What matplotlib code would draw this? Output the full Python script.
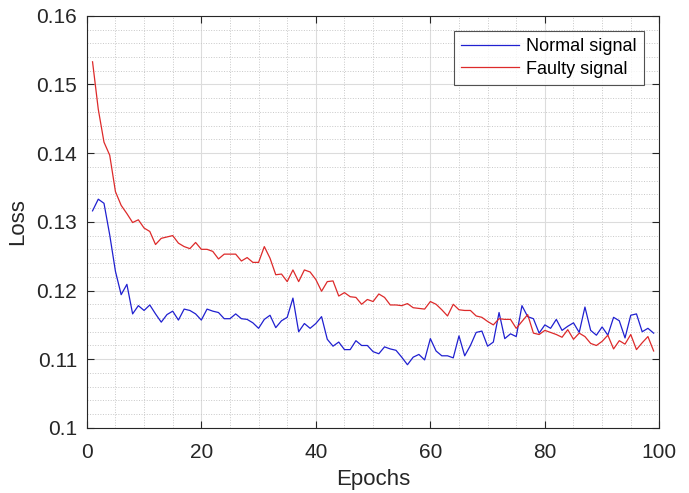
import numpy as np
import matplotlib
matplotlib.use("Agg")
import matplotlib.pyplot as plt
from matplotlib.ticker import MultipleLocator

plt.rcParams['font.family'] = ['Liberation Sans', 'DejaVu Sans']

# loss curves (epochs 1..99)
faulty_loss = [
    0.1533, 0.1464, 0.1416, 0.1397, 0.1344, 0.1324, 0.1312, 0.1299, 0.1303, 0.1291,
    0.1286, 0.1267, 0.1276, 0.1278, 0.1280, 0.1269, 0.1264, 0.1261, 0.1270, 0.1260,
    0.1260, 0.1257, 0.1246, 0.1253, 0.1253, 0.1253, 0.1243, 0.1248, 0.1241, 0.1241,
    0.1264, 0.1247, 0.1223, 0.1224, 0.1213, 0.1230, 0.1213, 0.1230, 0.1227, 0.1216,
    0.1199, 0.1213, 0.1214, 0.1192, 0.1197, 0.1191, 0.1190, 0.1180, 0.1187, 0.1184,
    0.1195, 0.1190, 0.1179, 0.1179, 0.1178, 0.1181, 0.1175, 0.1174, 0.1173, 0.1184,
    0.1180, 0.1172, 0.1163, 0.1180, 0.1172, 0.1171, 0.1171, 0.1163, 0.1161, 0.1155,
    0.1150, 0.1159, 0.1158, 0.1158, 0.1145, 0.1155, 0.1165, 0.1138, 0.1136, 0.1142,
    0.1139, 0.1136, 0.1132, 0.1143, 0.1129, 0.1138, 0.1133, 0.1123, 0.1120, 0.1126,
    0.1135, 0.1115, 0.1127, 0.1122, 0.1136, 0.1114, 0.1124, 0.1133, 0.1112,
]
normal_loss = [
    0.1316, 0.1333, 0.1327, 0.1281, 0.1228, 0.1194, 0.1209, 0.1166, 0.1178, 0.1171,
    0.1179, 0.1166, 0.1154, 0.1165, 0.1170, 0.1157, 0.1173, 0.1171, 0.1166, 0.1157,
    0.1173, 0.1170, 0.1168, 0.1159, 0.1159, 0.1166, 0.1159, 0.1158, 0.1153, 0.1145,
    0.1158, 0.1164, 0.1146, 0.1156, 0.1161, 0.1189, 0.1140, 0.1152, 0.1145, 0.1152,
    0.1162, 0.1129, 0.1119, 0.1125, 0.1114, 0.1114, 0.1127, 0.1120, 0.1120, 0.1111,
    0.1108, 0.1118, 0.1115, 0.1113, 0.1103, 0.1092, 0.1103, 0.1107, 0.1099, 0.1130,
    0.1112, 0.1105, 0.1105, 0.1102, 0.1134, 0.1105, 0.1120, 0.1139, 0.1141, 0.1119,
    0.1125, 0.1168, 0.1130, 0.1137, 0.1133, 0.1178, 0.1162, 0.1159, 0.1138, 0.1150,
    0.1145, 0.1158, 0.1142, 0.1148, 0.1153, 0.1139, 0.1176, 0.1142, 0.1135, 0.1147,
    0.1135, 0.1161, 0.1156, 0.1131, 0.1164, 0.1166, 0.1140, 0.1145, 0.1138,
]
epochs = np.arange(1, len(normal_loss) + 1)

x_ticks = [0, 20, 40, 60, 80, 100]
y_ticks = [0.10, 0.11, 0.12, 0.13, 0.14, 0.15, 0.16]
y_tick_labels = ['0.1', '0.11', '0.12', '0.13', '0.14', '0.15', '0.16']

fig = plt.figure(figsize=(6.89, 4.93), dpi=100)
ax = fig.add_axes([0.126, 0.132, 0.831, 0.836])

ax.plot(epochs, normal_loss, color='#2020d0', linewidth=0.9, label='Normal signal')
ax.plot(epochs, faulty_loss, color='#dd2a2a', linewidth=0.9, label='Faulty signal')

ax.set_xlim(0, 100)
ax.set_ylim(0.1, 0.16)
ax.set_xticks(x_ticks)
ax.set_yticks(y_ticks)
ax.set_yticklabels(y_tick_labels)
ax.xaxis.set_minor_locator(MultipleLocator(5))
ax.yaxis.set_minor_locator(MultipleLocator(0.002))

ax.grid(which='major', color='#dcdcdc', linestyle='-', linewidth=0.8)
ax.grid(which='minor', color='#c8c8c8', linestyle=':', linewidth=0.7)
ax.set_axisbelow(True)

ax.tick_params(which='major', direction='in', length=5, width=0.8,
               top=True, right=True, labelsize=15, colors='#262626')
ax.tick_params(axis='y', pad=7)
ax.tick_params(axis='x', pad=11)
ax.tick_params(which='minor', length=0)
for s in ax.spines.values():
    s.set_color('#262626')
    s.set_linewidth(0.8)

ax.set_xlabel('Epochs', fontsize=16, color='#262626', labelpad=5)
ax.set_ylabel('Loss', fontsize=16, color='#262626', labelpad=6)

leg = ax.legend(loc='upper right', fontsize=13, frameon=True, fancybox=False,
                borderaxespad=0.85, handlelength=3.2, handletextpad=0.4,
                borderpad=0.4, labelspacing=0.3)
leg.get_frame().set_edgecolor('#262626')
leg.get_frame().set_linewidth(0.8)

fig.savefig('out.png', dpi=100, facecolor='white')
